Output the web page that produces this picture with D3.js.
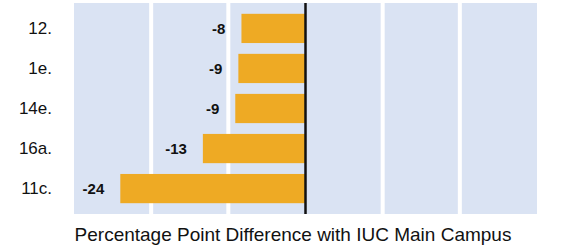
<!DOCTYPE html>
<html>
<head>
<meta charset="utf-8">
<script src="https://cdn.jsdelivr.net/npm/d3@7"></script>
<style>
  body { margin: 0; background: #fff; }
  svg { display: block; font-family: 'Liberation Sans', Arial, sans-serif; }
</style>
</head>
<body>
<div id="chart"></div>
<script>
// categories, top to bottom
var categories = ['12.', '1e.', '14e.', '16a.', '11c.'];
// difference values
var diffs = [-8.3, -8.7, -9.1, -13.3, -24.0];
// gridline ticks
var gridTicks = [-20, -10, 10, 20];

var width = 561;
var height = 246;

// plot box
var plotLeft = 74, plotRight = 537, plotTop = 3, plotBottom = 214;

var svg = d3.select('#chart')
    .append('svg')
    .attr('width', width)
    .attr('height', height);

var xScale = d3.scaleLinear()
    .domain([-30, 30])
    .range([plotLeft, plotRight]);

var yScale = d3.scaleBand()
    .domain(categories)
    .range([plotTop, plotBottom])
    .padding(0.27);

//background
svg.append('rect')
    .attr('x', plotLeft)
    .attr('y', plotTop)
    .attr('width', plotRight - plotLeft)
    .attr('height', plotBottom - plotTop)
    .attr('fill', '#dae3f3');

//white gridlines
svg.selectAll('.grid')
    .data(gridTicks)
    .enter()
    .append('line')
    .attr('class', 'grid')
    .attr('x1', function(d) { return xScale(d); })
    .attr('x2', function(d) { return xScale(d); })
    .attr('y1', plotTop)
    .attr('y2', plotBottom)
    .attr('stroke', '#fff')
    .attr('stroke-width', 4);

var rows = categories.map(function(c, i) {
    return { cat: c, val: diffs[i] };
});

//bars
svg.selectAll('.bar')
    .data(rows)
    .enter()
    .append('rect')
    .attr('class', 'bar')
    .attr('x', function(d) { return xScale(Math.min(0, d.val)); })
    .attr('y', function(d) { return yScale(d.cat); })
    .attr('width', function(d) { return Math.abs(xScale(d.val) - xScale(0)); })
    .attr('height', yScale.bandwidth())
    .attr('fill', '#eeaa24');

//zero line
svg.append('line')
    .attr('x1', xScale(0))
    .attr('x2', xScale(0))
    .attr('y1', plotTop)
    .attr('y2', plotBottom)
    .attr('stroke', '#111')
    .attr('stroke-width', 2.5);

//value labels (plain hyphen like the original)
svg.selectAll('.val')
    .data(rows)
    .enter()
    .append('text')
    .attr('class', 'val')
    .attr('x', function(d) { return xScale(d.val) - 16; })
    .attr('y', function(d) { return yScale(d.cat) + yScale.bandwidth() / 2; })
    .attr('dy', '0.36em')
    .attr('text-anchor', 'end')
    .attr('font-size', 15)
    .attr('font-weight', 'bold')
    .attr('fill', '#111')
    .text(function(d) { return String(Math.round(d.val)); });

//category axis
var yAxis = d3.axisLeft(yScale).tickSize(0).tickPadding(22);
var gy = svg.append('g')
    .attr('transform', 'translate(' + plotLeft + ',0)')
    .call(yAxis);
gy.select('.domain').remove();
gy.selectAll('text')
    .attr('font-size', 17)
    .attr('font-family', "'Liberation Sans', Arial, sans-serif")
    .attr('fill', '#111');

//axis title
svg.append('text')
    .attr('x', 293)
    .attr('y', 241)
    .attr('text-anchor', 'middle')
    .attr('font-size', 19)
    .attr('fill', '#111')
    .text('Percentage Point Difference with IUC Main Campus');
</script>
</body>
</html>
